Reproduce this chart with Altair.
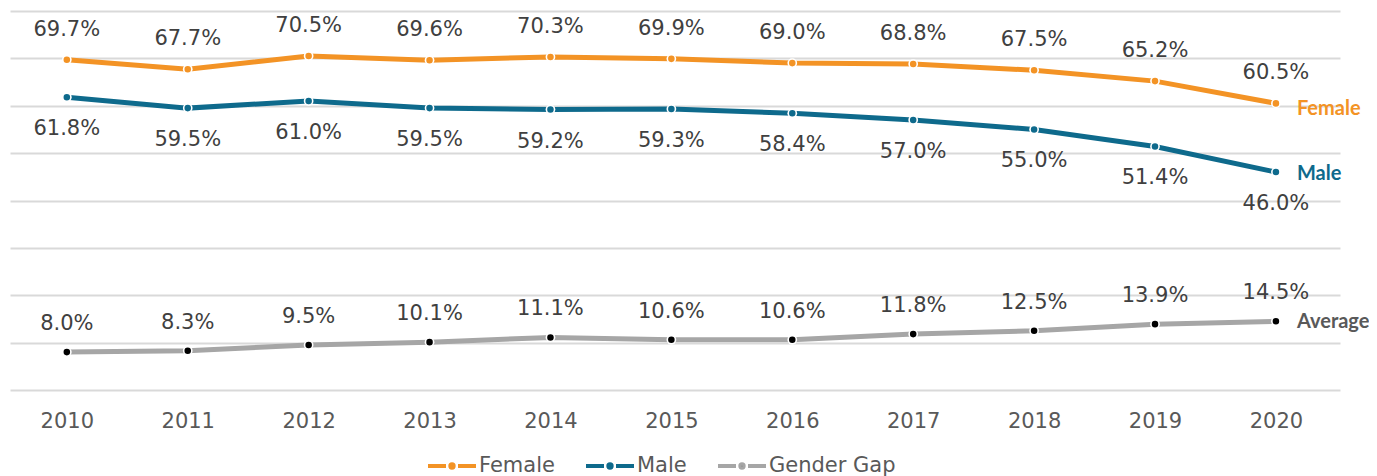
import altair as alt
import pandas as pd

years = list(range(2010, 2021))
female = [69.7, 67.7, 70.5, 69.6, 70.3, 69.9, 69.0, 68.8, 67.5, 65.2, 60.5]
male = [61.8, 59.5, 61.0, 59.5, 59.2, 59.3, 58.4, 57.0, 55.0, 51.4, 46.0]
gap = [8.0, 8.3, 9.5, 10.1, 11.1, 10.6, 10.6, 11.8, 12.5, 13.9, 14.5]
series_names = ["Female", "Male", "Gender Gap"]
end_names = ["Female", "Male", "Average"]
line_colors = ["#F39325", "#0E6A8C", "#A6A6A6"]
dot_colors = ["#F39325", "#0E6A8C", "#000000"]
end_colors = ["#F39325", "#0E6A8C", "#595959"]
label_offsets = [-30, 32, -28]
end_offsets = [6, 2, 1]
grid_values = list(range(0, 90, 10))

rows = []
for name, vals in zip(series_names, [female, male, gap]):
    for yr, v in zip(years, vals):
        rows.append({"year": yr, "series": name, "value": v})
df = pd.DataFrame(rows)

FONT = "DejaVu Sans"
COND = "Lato"

x = alt.X(
    "year:Q",
    scale=alt.Scale(domain=[2009.53, 2020.53], nice=False, zero=False),
    axis=alt.Axis(values=years, format="d", grid=False, ticks=False, domain=False,
                  labelFont=FONT, labelFontSize=21, labelColor="#595959",
                  labelPadding=20, labelFlush=False, labelOverlap=False, title=None),
)
y = alt.Y(
    "value:Q",
    scale=alt.Scale(domain=[0, 80], nice=False, zero=True),
    axis=alt.Axis(values=grid_values, grid=True, gridColor="#D9D9D9", gridWidth=2,
                  labels=False, ticks=False, domain=False, title=None),
)

base = alt.Chart(df).encode(x=x, y=y)

LEGEND_PATH = ("M-1,0H-0.25M0.25,0H1"
               "M0.07,0A0.07,0.07,0,1,1,-0.07,0A0.07,0.07,0,1,1,0.07,0Z")

lines = base.mark_line(strokeWidth=5).encode(
    stroke=alt.Stroke(
        "series:N",
        scale=alt.Scale(domain=series_names, range=line_colors),
        legend=alt.Legend(title=None, orient="none", legendX=416, legendY=429,
                          direction="horizontal", symbolType=LEGEND_PATH,
                          symbolSize=2304, symbolStrokeWidth=4,
                          labelFont=FONT, labelFontSize=21, labelColor="#595959",
                          labelOffset=1, columnPadding=23),
    )
)
halo = base.mark_circle(size=95, color="white", opacity=1)
dots = base.mark_circle(size=43, opacity=1).encode(
    fill=alt.Fill("series:N", scale=alt.Scale(domain=series_names, range=dot_colors),
                  legend=None)
)

layers = [lines, halo, dots]
for name, dy in zip(series_names, label_offsets):
    layers.append(
        base.transform_filter(alt.datum.series == name)
        .transform_calculate(lbl="format(datum.value, '.1f') + '%'")
        .mark_text(dy=dy, font=FONT, fontSize=21, color="#404040")
        .encode(text="lbl:N")
    )
for name, end, col, dy in zip(series_names, end_names, end_colors, end_offsets):
    layers.append(
        base.transform_filter((alt.datum.series == name) & (alt.datum.year == years[-1]))
        .mark_text(align="left", dx=21, dy=dy, font=COND, fontSize=20,
                   fontWeight="bold", color=col)
        .encode(text=alt.value(end))
    )

chart = (
    alt.layer(*layers)
    .properties(width=1330, height=379,
                padding={"left": 2, "top": 3, "right": 29, "bottom": 86},
                autosize=alt.AutoSizeParams(type="none"))
    .configure_view(stroke=None)
)

chart.save("out.html", embed_options={"renderer": "svg", "actions": False})
